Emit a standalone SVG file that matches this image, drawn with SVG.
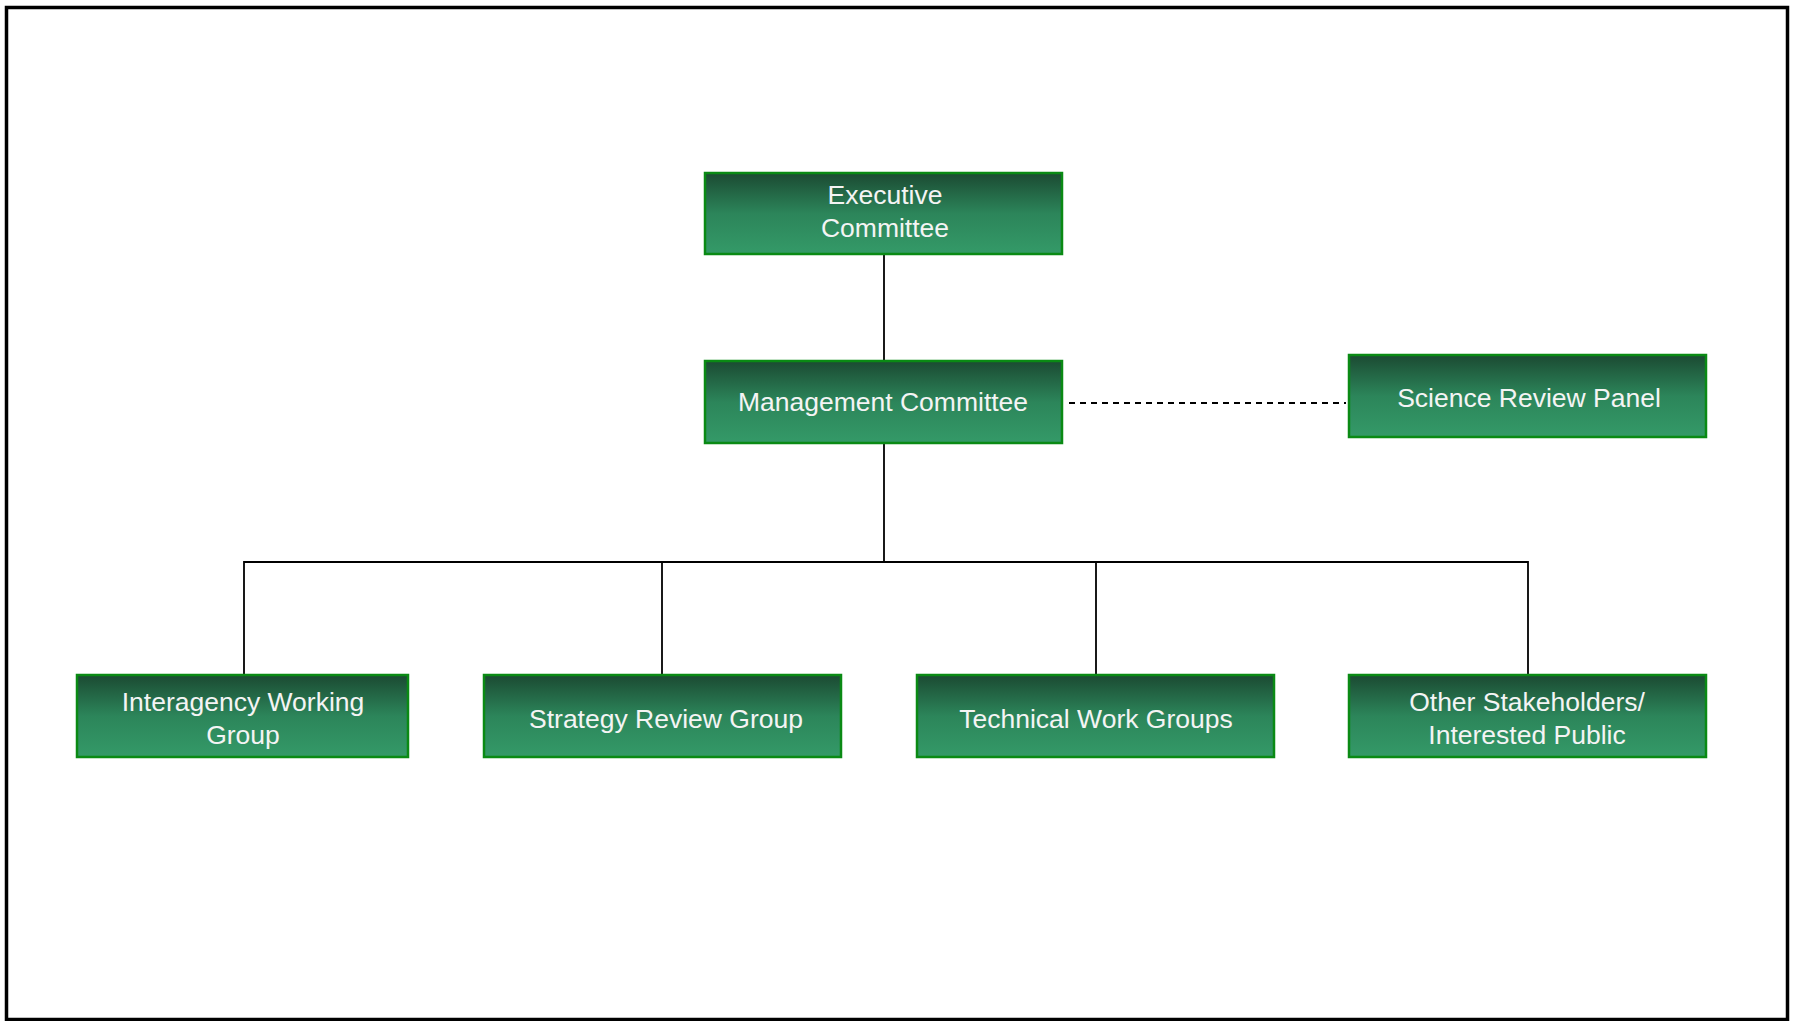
<svg xmlns="http://www.w3.org/2000/svg" width="1797" height="1021" viewBox="0 0 1797 1021">
<defs>
<linearGradient id="g" x1="0" y1="0" x2="0" y2="1">
<stop offset="0" stop-color="#1b4a32"/>
<stop offset="0.5" stop-color="#2c855a"/>
<stop offset="1" stop-color="#349a68"/>
</linearGradient>
<style>
.box{fill:url(#g);stroke:#0a8a14;stroke-width:2.5}
.t{font-family:"Liberation Sans",sans-serif;font-size:26.5px;fill:#f4f4f4;text-anchor:middle}
.c{stroke:#000;stroke-width:1.8;fill:none}
.d{stroke:#000;stroke-width:1.8;fill:none;stroke-dasharray:6,5}
</style>
</defs>
<rect x="0" y="0" width="1797" height="1021" fill="#fff"/>
<rect x="6.5" y="7.5" width="1781" height="1012" fill="none" stroke="#000" stroke-width="3.5"/>
<g id="connectors">
<line class="c" x1="884" y1="254" x2="884" y2="361"/>
<line class="c" x1="884" y1="443" x2="884" y2="562"/>
<polyline class="c" points="244,675 244,562 1528,562 1528,675"/>
<line class="c" x1="662" y1="562" x2="662" y2="675"/>
<line class="c" x1="1096" y1="562" x2="1096" y2="675"/>
<line class="d" x1="1069" y1="403" x2="1346" y2="403"/>
</g>
<g id="executive">
<rect class="box" x="705" y="173" width="357" height="81"/>
<text class="t" x="885" y="204">Executive</text>
<text class="t" x="885" y="237">Committee</text>
</g>
<g id="management">
<rect class="box" x="705" y="361" width="357" height="82"/>
<text class="t" x="883" y="411">Management Committee</text>
</g>
<g id="science">
<rect class="box" x="1349" y="355" width="357" height="82"/>
<text class="t" x="1529" y="407">Science Review Panel</text>
</g>
<g id="interagency">
<rect class="box" x="77" y="675" width="331" height="82"/>
<text class="t" x="243" y="711">Interagency Working</text>
<text class="t" x="243" y="744">Group</text>
</g>
<g id="strategy">
<rect class="box" x="484" y="675" width="357" height="82"/>
<text class="t" x="666" y="728">Strategy Review Group</text>
</g>
<g id="technical">
<rect class="box" x="917" y="675" width="357" height="82"/>
<text class="t" x="1096" y="728">Technical Work Groups</text>
</g>
<g id="other">
<rect class="box" x="1349" y="675" width="357" height="82"/>
<text class="t" x="1527" y="711">Other Stakeholders/</text>
<text class="t" x="1527" y="744">Interested Public</text>
</g>
</svg>
